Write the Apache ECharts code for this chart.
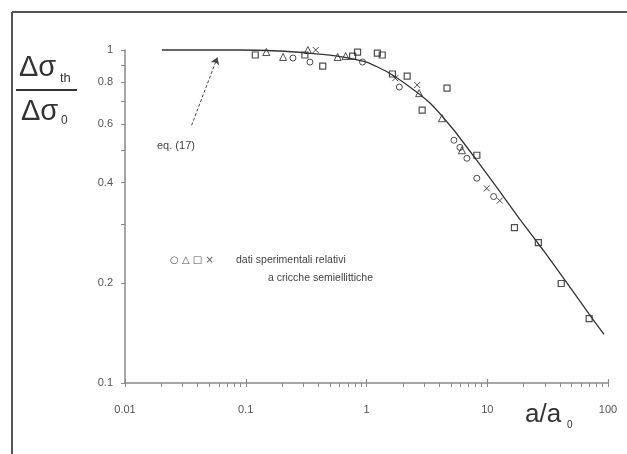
<!DOCTYPE html>
<html><head><meta charset="utf-8">
<script src="https://cdn.jsdelivr.net/npm/echarts@6/dist/echarts.min.js"></script>
<style>html,body{margin:0;padding:0;background:#fff}#c{width:627px;height:454px}</style>
</head><body><div id="c"></div>
<script>
// ---- tick labels ----
const xTickLabels = [0.01, 0.1, 1, 10, 100];
const xMinorTicks = [0.02,0.03,0.04,0.05,0.06,0.07,0.08,0.09,0.2,0.3,0.4,0.5,0.6,0.7,0.8,0.9,2,3,4,5,6,7,8,9,20,30,40,50,60,70,80,90];
const yTickLabels = [0.1, 0.2, 0.4, 0.6, 0.8, 1];
const yTicks = [0.1,0.2,0.3,0.4,0.5,0.6,0.7,0.8,0.9,1];

// ---- eq. (17) curve ----
const curveA = [0.0202,0.0406,0.0867,0.185,0.327,0.577,1,1.49,2.17,3.37,5.30,8.20,12.0,18.5,29.2,42.6,69.8,92.7];
const curveV = [1,1,1,0.993,0.979,0.959,0.920,0.859,0.785,0.692,0.574,0.466,0.387,0.311,0.250,0.207,0.161,0.140];

// ---- experimental data ----
const circA = [0.246,0.340,0.927,1.87,5.30,5.94,6.78,8.20,11.3];
const circV = [0.946,0.920,0.920,0.774,0.536,0.510,0.473,0.412,0.363];
const triA  = [0.148,0.204,0.327,0.577,0.672,2.73,4.22,6.17];
const triV  = [0.986,0.953,1.0,0.953,0.959,0.742,0.624,0.500];
const sqA   = [0.120,0.309,0.434,0.767,0.843,1.23,1.35,1.64,2.17,2.89,4.64,8.20,16.8,26.5,41.0,69.8];
const sqV   = [0.966,0.966,0.895,0.959,0.986,0.979,0.966,0.847,0.835,0.660,0.768,0.483,0.293,0.264,0.199,0.156];
const crA   = [0.380,1.73,2.63,9.91,12.7];
const crV   = [1.0,0.823,0.785,0.384,0.353];

// ---- annotation arrow (data space) ----
const arrowFrom = [0.0356, 0.594];
const arrowTo   = [0.0582, 0.950];

const L = Math.log10;
const pts = (xs, ys) => xs.map((x, i) => [L(x), L(ys[i])]);
const fmt = v => String(parseFloat(Math.pow(10, v).toPrecision(3)));

const chart = echarts.init(document.getElementById('c'), null, {renderer: 'canvas'});
const axisColor = '#8a8a8a';
const labelStyle = {color: '#555', fontSize: 11, fontFamily: 'Liberation Sans, Arial, sans-serif'};

const scatterBase = {type: 'scatter', xAxisIndex: 0, yAxisIndex: 0, clip: false, silent: true};

chart.setOption({
  animation: false,
  backgroundColor: '#fff',
  grid: {left: 125, right: 19, top: 50, bottom: 71, outerBoundsMode: 'none', containLabel: false},
  xAxis: [{
    type: 'value', min: -2, max: 2, position: 'bottom',
    axisLine: {show: true, onZero: false, lineStyle: {color: axisColor, width: 1.5}},
    axisTick: {show: true, inside: false, length: 4, lineStyle: {color: axisColor, width: 1},
      customValues: xMinorTicks.concat(xTickLabels).map(L)},
    axisLabel: Object.assign({show: true, margin: 21, formatter: fmt, customValues: xTickLabels.map(L)}, labelStyle),
    splitLine: {show: false}
  }, {
    type: 'value', min: -2, max: 2, position: 'bottom',
    axisLine: {show: false, onZero: false},
    axisTick: {show: true, inside: true, length: 4, lineStyle: {color: axisColor, width: 1.2},
      customValues: xTickLabels.map(L)},
    axisLabel: {show: false},
    splitLine: {show: false}
  }],
  yAxis: [{
    type: 'value', min: -1, max: 0, position: 'left',
    axisLine: {show: true, onZero: false, lineStyle: {color: axisColor, width: 1.5}},
    axisTick: {show: true, inside: false, length: 4, lineStyle: {color: axisColor, width: 1},
      customValues: yTicks.map(L)},
    axisLabel: Object.assign({show: true, margin: 12, formatter: fmt, customValues: yTickLabels.map(L)}, labelStyle),
    splitLine: {show: false}
  }],
  series: [{
    type: 'line', name: 'eq. (17)', data: pts(curveA, curveV), showSymbol: false, smooth: 0.15,
    clip: false, silent: true,
    lineStyle: {color: '#333', width: 1.3},
    markLine: {
      silent: true, symbol: ['none', 'arrow'], symbolSize: 7,
      lineStyle: {color: '#444', width: 1, type: [3, 2]},
      itemStyle: {color: '#444'},
      label: {show: false},
      data: [[{coord: [L(arrowFrom[0]), L(arrowFrom[1])]}, {coord: [L(arrowTo[0]), L(arrowTo[1])]}]]
    }
  },
  Object.assign({}, scatterBase, {name: 'circles', data: pts(circA, circV), symbol: 'circle', symbolSize: 6,
    itemStyle: {color: 'transparent', borderColor: '#222', borderWidth: 1}}),
  Object.assign({}, scatterBase, {name: 'triangles', data: pts(triA, triV), symbol: 'triangle', symbolSize: 7,
    itemStyle: {color: 'transparent', borderColor: '#222', borderWidth: 1}}),
  Object.assign({}, scatterBase, {name: 'squares', data: pts(sqA, sqV), symbol: 'rect', symbolSize: 6,
    itemStyle: {color: 'transparent', borderColor: '#222', borderWidth: 1.2}}),
  Object.assign({}, scatterBase, {name: 'crosses', data: pts(crA, crV), symbol: 'path://M0,0L10,10M10,0L0,10', symbolSize: 6,
    itemStyle: {color: 'transparent', borderColor: '#222', borderWidth: 1}})
  ],
  graphic: [
    // frame
    {type: 'line', shape: {x1: 12, y1: 12, x2: 627, y2: 12}, style: {stroke: '#555', lineWidth: 2}, silent: true},
    {type: 'line', shape: {x1: 12, y1: 12, x2: 12, y2: 454}, style: {stroke: '#555', lineWidth: 2}, silent: true},
    // y title (fraction)
    {type: 'text', x: 19, y: 82, style: {text: 'Δσ', font: '29px "Liberation Sans", Arial, sans-serif', fill: '#333', textVerticalAlign: 'bottom'}},
    {type: 'text', x: 60, y: 85, style: {text: 'th', font: '13px "Liberation Sans", Arial, sans-serif', fill: '#333', textVerticalAlign: 'bottom'}},
    {type: 'rect', shape: {x: 16, y: 89, width: 61, height: 2}, style: {fill: '#333'}},
    {type: 'text', x: 21, y: 126, style: {text: 'Δσ', font: '29px "Liberation Sans", Arial, sans-serif', fill: '#333', textVerticalAlign: 'bottom'}},
    {type: 'text', x: 61, y: 127, style: {text: '0', font: '12px "Liberation Sans", Arial, sans-serif', fill: '#333', textVerticalAlign: 'bottom'}},
    // x title
    {type: 'text', x: 525, y: 428, style: {text: 'a/a', font: '26px "Liberation Sans", Arial, sans-serif', fill: '#333', textVerticalAlign: 'bottom'}},
    {type: 'text', x: 567, y: 430, style: {text: '0', font: '10px "Liberation Sans", Arial, sans-serif', fill: '#333', textVerticalAlign: 'bottom'}},
    // annotation
    {type: 'text', x: 157, y: 146, style: {text: 'eq. (17)', font: '11px "Liberation Sans", Arial, sans-serif', fill: '#444', textVerticalAlign: 'middle'}},
    // legend text
    {type: 'text', x: 170, y: 260, style: {text: '○ △ □ ×', font: '10px "DejaVu Sans", sans-serif', fill: '#555', textVerticalAlign: 'middle'}},
    {type: 'text', x: 236, y: 260, style: {text: 'dati sperimentali relativi', font: '10.5px "Liberation Sans", Arial, sans-serif', fill: '#444', textVerticalAlign: 'middle'}},
    {type: 'text', x: 268, y: 278, style: {text: 'a cricche semiellittiche', font: '10.5px "Liberation Sans", Arial, sans-serif', fill: '#444', textVerticalAlign: 'middle'}}
  ]
});
</script>
</body></html>
